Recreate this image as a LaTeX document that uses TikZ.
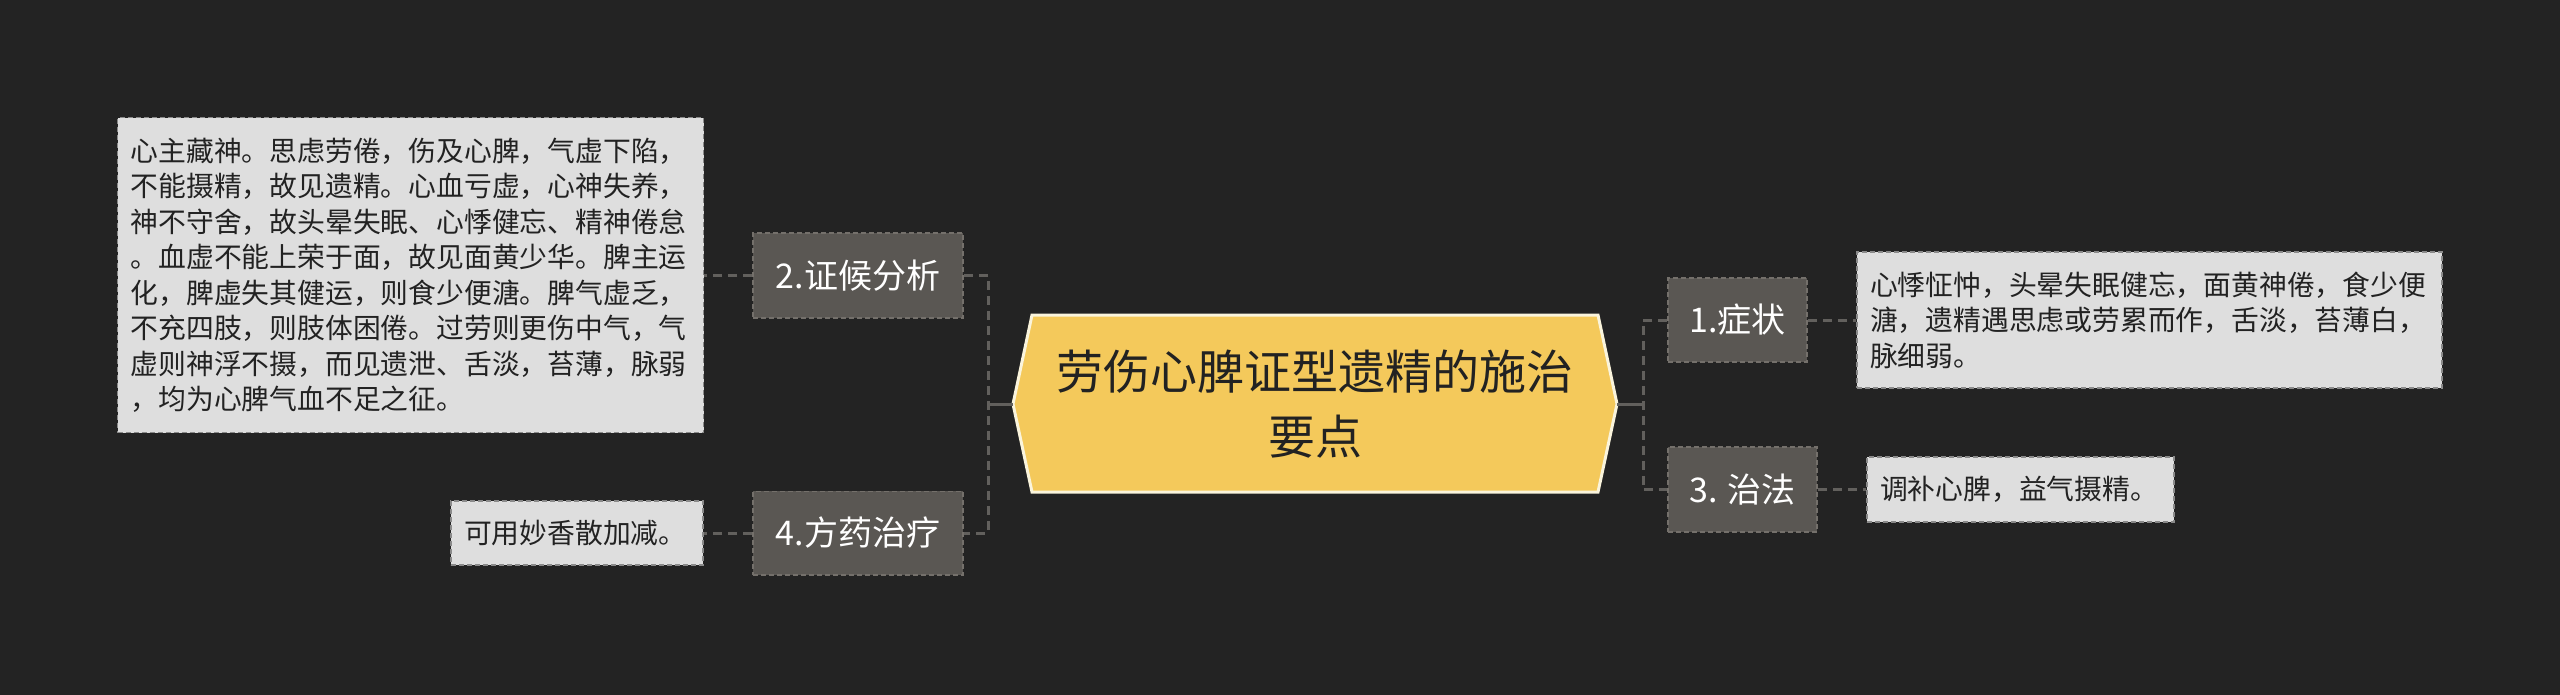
\documentclass[tikz,border=0pt]{standalone}
\usepackage{fontspec}
\setmainfont{Noto Sans CJK SC}
\definecolor{bgc}{HTML}{232323}
\definecolor{topicfill}{HTML}{5A5753}
\definecolor{topicdraw}{HTML}{74706B}
\definecolor{boxfill}{HTML}{DEDEDE}
\definecolor{boxdraw}{HTML}{8A8A8A}
\definecolor{linec}{HTML}{62605D}
\definecolor{rootfill}{HTML}{F4C95B}
\definecolor{rootdraw}{HTML}{FAF4DC}
\definecolor{darktext}{HTML}{222222}
\tikzset{
  x=1pt, y=-1pt,
  topic/.style={fill=topicfill, draw=topicdraw, dash pattern=on 5pt off 3pt, line width=1.5pt,
    text=white, inner sep=0pt, font=\fontsize{34pt}{40pt}\selectfont},
  textbox/.style={fill=boxfill, draw=boxdraw, dash pattern=on 5pt off 3pt, line width=1.5pt,
    text=darktext, align=left, inner ysep=0pt, font=\fontsize{27.8pt}{35.5pt}\selectfont},
  conn/.style={draw=linec, line width=3pt, dash pattern=on 9pt off 6pt},
  trunk/.style={draw=linec, line width=3pt},
}
\begin{document}
\begin{tikzpicture}
\fill[bgc] (0,0) rectangle (2560,695);
\useasboundingbox (0,0) rectangle (2560,695);
% central node
\coordinate (rootL) at (1013,404);
\coordinate (rootR) at (1617,404);
\fill[rootfill, draw=rootdraw, line width=3pt, line join=miter]
  (rootL) -- (1032,315) -- (1598,315) -- (rootR) -- (1598,492) -- (1032,492) -- cycle;
\node[text=darktext, align=center, font=\fontsize{47pt}{64.5pt}\selectfont] (root) at (1315,404)
  {劳伤心脾证型遗精的施治\\要点};
% left side
\node[topic, minimum width=210pt, minimum height=85pt] (t2) at (858,275.5) {2.证候分析};
\node[topic, minimum width=210pt, minimum height=83.5pt] (t4) at (858,533) {4.方药治疗};
\node[textbox, text width=560pt, inner xsep=13pt, minimum height=315pt] (b2) at (410.6,275.2)
  {心主藏神。思虑劳倦，伤及心脾，气虚下陷，\\
   不能摄精，故见遗精。心血亏虚，心神失养，\\
   神不守舍，故头晕失眠、心悸健忘、精神倦怠\\
   。血虚不能上荣于面，故见面黄少华。脾主运\\
   化，脾虚失其健运，则食少便溏。脾气虚乏，\\
   不充四肢，则肢体困倦。过劳则更伤中气，气\\
   虚则神浮不摄，而见遗泄、舌淡，苔薄，脉弱\\
   ，均为心脾气血不足之征。};
\node[textbox, text width=226pt, inner xsep=13pt, minimum height=64pt] (b4) at (577,533)
  {可用妙香散加减。};
% right side
\node[topic, minimum width=139pt, minimum height=84pt] (t1) at (1737.5,320) {1.症状};
\node[topic, minimum width=149pt, minimum height=85pt] (t3) at (1742.5,489.5) {3. 治法};
\node[textbox, text width=559pt, inner xsep=13pt, minimum height=136pt] (b1) at (2149.5,320)
  {心悸怔忡，头晕失眠健忘，面黄神倦，食少便\\
   溏，遗精遇思虑或劳累而作，舌淡，苔薄白，\\
   脉细弱。};
\node[textbox, text width=281pt, inner xsep=13pt, minimum height=65pt] (b3) at (2020.5,489.5)
  {调补心脾，益气摄精。};
% connectors
\coordinate (lj) at (988,404);
\coordinate (rj) at (1643,404);
\draw[trunk] (rootL) -- (lj);
\draw[trunk] (rootR) -- (rj);
\draw[conn] (t2.east) -| (lj) |- (t4.east);
\draw[conn] (t1.west) -| (rj) |- (t3.west);
\draw[conn] (t2.west) -- (b2.east |- t2.west);
\draw[conn] (t4.west) -- (b4.east);
\draw[conn] (t1.east) -- (b1.west |- t1.east);
\draw[conn] (t3.east) -- (b3.west);
\end{tikzpicture}
\end{document}
